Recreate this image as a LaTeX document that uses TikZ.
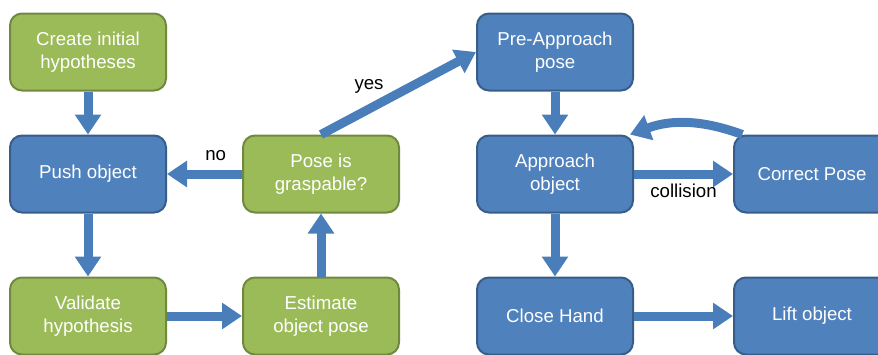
\documentclass[tikz,border=0pt]{standalone}
\usepackage{fontspec}
\setmainfont{Liberation Sans}
\usetikzlibrary{arrows.meta,positioning}
\definecolor{greenfill}{HTML}{9BBB59}
\definecolor{greenline}{HTML}{71893F}
\definecolor{bluefill}{HTML}{4F81BD}
\definecolor{blueline}{HTML}{385D8A}
\definecolor{arrowblue}{HTML}{4A7EBB}

\begin{document}
\begin{tikzpicture}[
  x=0.75pt, y=-0.75pt,
  stepnode/.style={draw, rounded corners=9pt, line width=1.5pt, minimum width=117pt, minimum height=57.75pt, inner sep=0pt, align=center, text=white, font=\fontsize{14}{17}\selectfont},
  greenbox/.style={stepnode, fill=greenfill, draw=greenline},
  bluebox/.style={stepnode, fill=bluefill, draw=blueline},
  arrow/.style={-{Triangle[length=15pt, width=19pt]}, line width=6.75pt, draw=arrowblue},
  lbl/.style={font=\fontsize{14}{17}\selectfont, text=black}
]
\useasboundingbox (0,0) rectangle (878,354);

% Left part: hypotheses
\node[greenbox] (create) at (88,52) {Create initial\\hypotheses};
\node[bluebox] (push) at (88,174) {Push object};
\node[greenbox] (valid) at (88,316) {Validate\\hypothesis};
\node[greenbox] (pose) at (321,174) {Pose is\\graspable?};
\node[greenbox] (est) at (321,316) {Estimate\\object pose};

% Right part: grasping
\node[bluebox] (pre) at (555,52) {Pre-Approach\\pose};
\node[bluebox] (appr) at (555,174) {Approach\\object};
\node[bluebox] (corr) at (812,174) {Correct Pose};
\node[bluebox] (close) at (555,316) {Close Hand};
\node[bluebox] (lift) at (812,316) {Lift object};

% Arrows
\draw[arrow] (create) -- (push);
\draw[arrow] (push) -- (valid);
\draw[arrow] (valid) -- (est);
\draw[arrow] (est) -- (pose);
\draw[arrow] (pose) -- (push) node[lbl, pos=0.35, above=3pt] {no};
\draw[arrow] (pose.north) -- (pre.west) node[lbl, pos=0.31, above=5pt] {yes};
\draw[arrow] (pre) -- (appr);
\draw[arrow] (appr) -- (corr) node[lbl, midway, below=1pt] {collision};
\draw[arrow] ([xshift=7pt]corr.north west) to[bend right=20] ([xshift=-3pt]appr.north east);
\draw[arrow] (appr) -- (close);
\draw[arrow] (close) -- (lift);

\end{tikzpicture}
\end{document}
